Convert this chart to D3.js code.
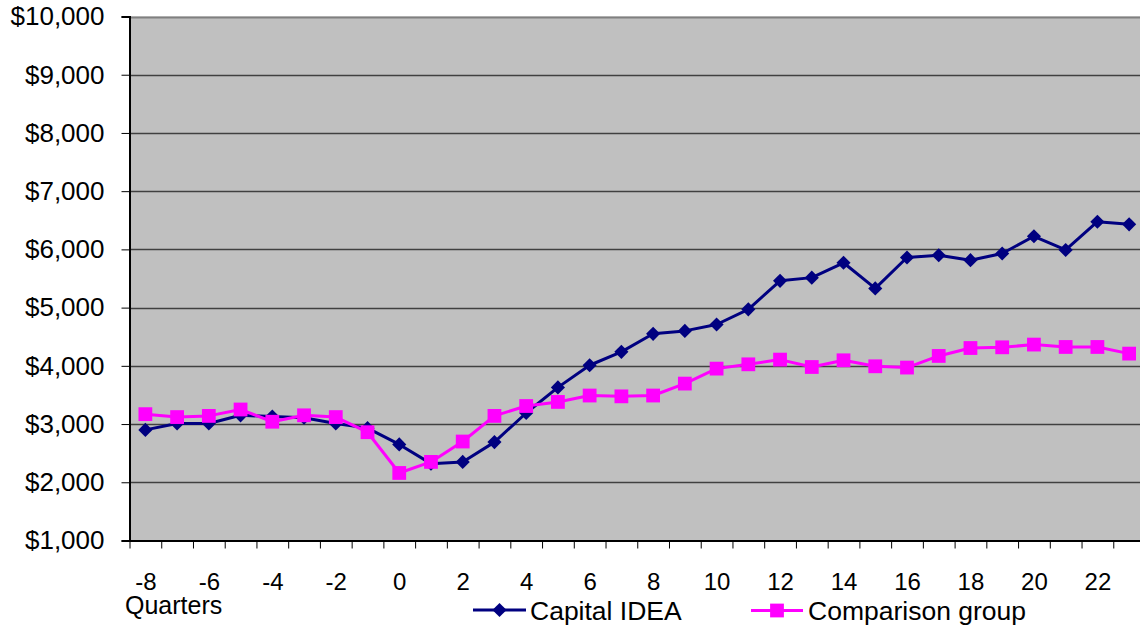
<!DOCTYPE html>
<html>
<head>
<meta charset="utf-8">
<script src="https://cdn.jsdelivr.net/npm/d3@7/dist/d3.min.js"></script>
<style>
  html, body { margin: 0; padding: 0; background: #ffffff; }
  svg { display: block; }
  text { font-family: "Liberation Sans", Arial, Helvetica, sans-serif; fill: #000; }
</style>
</head>
<body>
<svg id="chart" width="1140" height="628"></svg>
<script>
// Quarters relative to program entry
const quarters = d3.range(-8, 24);

// Average quarterly earnings, participants
const capitalIdea = [
  2900, 3010, 3010, 3150, 3130, 3110, 3010, 2930,
  2650, 2320, 2350, 2690, 3190, 3630, 4010, 4240,
  4550, 4600, 4710, 4970, 5460, 5515, 5770, 5330,
  5860, 5900, 5815, 5930, 6225, 5990, 6475, 6430
];

// Average quarterly earnings, comparison group
const comparison = [
  3170, 3120, 3140, 3250, 3040, 3150, 3120, 2860,
  2160, 2350, 2700, 3140, 3310, 3380, 3490, 3476,
  3490, 3695, 3952, 4026, 4107, 3980, 4095, 3992,
  3970, 4170, 4306, 4318, 4365, 4324, 4324, 4210
];

const yTicks = d3.range(1000, 10001, 1000);
const xLabels = d3.range(-8, 23, 2);

const seriesList = [
  { name: "Capital IDEA", values: capitalIdea, color: "#000080", shape: "diamond" },
  { name: "Comparison group", values: comparison, color: "#FF00FF", shape: "square" }
];

const svg = d3.select("#chart");

const plot = { left: 129.5, top: 16.5, bottom: 540.5, right: 1145 };

// Each quarter occupies one slot; points sit in the slot centre
const x = d3.scaleLinear()
  .domain([quarters[0] - 0.5, quarters[quarters.length - 1] + 0.5])
  .range([plot.left, plot.right]);

const y = d3.scaleLinear()
  .domain([1000, 10000])
  .range([plot.bottom, plot.top]);

// Plot background
svg.append("rect")
  .attr("x", plot.left)
  .attr("y", plot.top)
  .attr("width", plot.right - plot.left)
  .attr("height", plot.bottom - plot.top)
  .attr("fill", "#C0C0C0");

// Horizontal gridlines
svg.append("g")
  .selectAll("line")
  .data(yTicks.filter(v => v > 1000))
  .join("line")
  .attr("x1", plot.left)
  .attr("x2", plot.right)
  .attr("y1", d => Math.round(y(d)) + 0.5)
  .attr("y2", d => Math.round(y(d)) + 0.5)
  .attr("stroke", d => d === 10000 ? "#808080" : "#404040")
  .attr("stroke-width", d => d === 10000 ? 2 : 1.3);

// Y axis
const yAxis = svg.append("g")
  .attr("transform", `translate(${plot.left},0)`)
  .call(d3.axisLeft(y)
    .tickValues(yTicks)
    .tickSize(8)
    .tickPadding(17)
    .tickFormat(d => "$" + d3.format(",")(d)));
yAxis.select(".domain").attr("stroke", "#000").attr("stroke-width", 2);
yAxis.selectAll(".tick line").attr("stroke", "#000").attr("stroke-width", 1);
yAxis.selectAll(".tick text")
  .style("font-size", "26px")
  .style("font-family", "'Liberation Sans', Arial, sans-serif")
  .attr("fill", "#000");

// X axis: tick marks on slot boundaries
const boundaries = d3.range(quarters[0] - 0.5, quarters[quarters.length - 1] + 0.5, 1);
const xTickAxis = svg.append("g")
  .attr("transform", `translate(0,${plot.bottom})`)
  .call(d3.axisBottom(x)
    .tickValues(boundaries)
    .tickSize(8)
    .tickSizeOuter(0)
    .tickFormat(""));
xTickAxis.select(".domain").attr("stroke", "#000").attr("stroke-width", 2);
xTickAxis.selectAll(".tick line").attr("stroke", "#000").attr("stroke-width", 1);

// X axis labels at every second quarter (plain hyphen for negatives)
const xLabelAxis = svg.append("g")
  .attr("transform", `translate(0,${plot.bottom})`)
  .call(d3.axisBottom(x)
    .tickValues(xLabels)
    .tickSize(0)
    .tickPadding(32)
    .tickFormat(d => String(d)));
xLabelAxis.select(".domain").remove();
xLabelAxis.selectAll(".tick text")
  .style("font-size", "24px")
  .style("font-family", "'Liberation Sans', Arial, sans-serif")
  .attr("fill", "#000");

// Axis title
svg.append("text")
  .attr("x", 125)
  .attr("y", 614)
  .style("font-size", "25px")
  .text("Quarters");

// Marker shapes
const diamond = d3.symbol().type(d3.symbolSquare).size(100);
const square = d3.symbol().type(d3.symbolSquare).size(190);
function markerPath(shape) { return shape === "diamond" ? diamond() : square(); }
function markerTransform(shape, cx, cy) {
  return shape === "diamond"
    ? `translate(${cx},${cy}) rotate(45)`
    : `translate(${cx},${cy})`;
}

const line = d3.line()
  .x((d, i) => x(quarters[i]))
  .y(d => y(d));

// Series lines and markers
seriesList.forEach(s => {
  const g = svg.append("g");
  g.append("path")
    .datum(s.values)
    .attr("d", line)
    .attr("fill", "none")
    .attr("stroke", s.color)
    .attr("stroke-width", 3)
    .attr("stroke-linejoin", "round");
  g.selectAll("path.marker")
    .data(s.values)
    .join("path")
    .attr("class", "marker")
    .attr("d", markerPath(s.shape))
    .attr("transform", (d, i) => markerTransform(s.shape, x(quarters[i]), y(d)))
    .attr("fill", s.color);
});

// Legend
const legendItems = [
  { s: seriesList[0], x1: 473, x2: 526, tx: 530, cy: 610 },
  { s: seriesList[1], x1: 751, x2: 803, tx: 808, cy: 610.5 }
];
legendItems.forEach(it => {
  const g = svg.append("g");
  g.append("line")
    .attr("x1", it.x1).attr("x2", it.x2)
    .attr("y1", it.cy).attr("y2", it.cy)
    .attr("stroke", it.s.color)
    .attr("stroke-width", 3);
  g.append("path")
    .attr("d", markerPath(it.s.shape))
    .attr("transform", markerTransform(it.s.shape, (it.x1 + it.x2) / 2, it.cy))
    .attr("fill", it.s.color);
  g.append("text")
    .attr("x", it.tx)
    .attr("y", it.cy + 9.5)
    .style("font-size", "26.5px")
    .text(it.s.name);
});
</script>
</body>
</html>
